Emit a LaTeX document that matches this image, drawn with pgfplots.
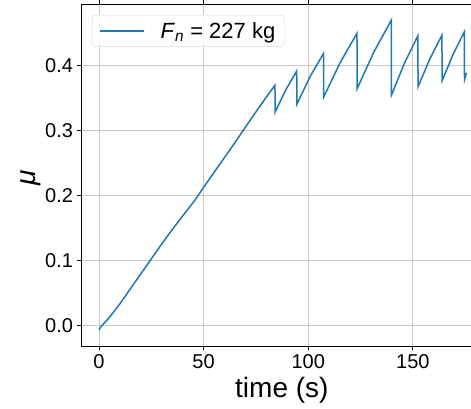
\documentclass[border=0pt]{standalone}
\usepackage{pgfplots}
\pgfplotsset{compat=1.18}
\usepackage{fontspec}
\setmainfont{Liberation Sans}
\definecolor{mplblue}{HTML}{1F77B4}
\definecolor{gridgray}{HTML}{C8C8C8}
\begin{document}
\begin{tikzpicture}
\begin{axis}[
    at={(0,0)}, anchor=south west,
    scale only axis,
    width=390pt, height=342pt,
    xmin=-8.6, xmax=177.8,
    ymin=-0.032, ymax=0.494,
    axis x line=box, axis y line=left,
    axis line style={-, line width=0.8pt, black},
    xtick={0,50,100,150},
    ytick={0,0.1,0.2,0.3,0.4},
    yticklabel style={xshift=-1pt, /pgf/number format/fixed, /pgf/number format/fixed zerofill, /pgf/number format/precision=1},
    /pgf/number format/assume math mode=true,
    tick align=outside,
    major tick length=3.5pt,
    tick style={line width=0.8pt, black},
    ticklabel style={font=\fontsize{20}{22}\selectfont},
    xticklabel style={yshift=-1pt},
    grid=major,
    major grid style={gridgray, line width=0.8pt},
    xlabel={time (s)},
    ylabel={\itshape μ},
    every axis x label/.style={at={(axis description cs:0.515,0)}, anchor=center, yshift=-44pt, font=\fontsize{28}{30}\selectfont},
    every axis y label/.style={at={(axis description cs:0,0.5)}, xshift=-50pt, yshift=-3pt, anchor=center, rotate=90, font=\fontsize{28}{30}\selectfont},
    legend style={at={(axis description cs:0.028,0.968)}, anchor=north west,
        draw=gray!30, rounded corners=3pt, fill=white, fill opacity=0.8, text opacity=1,
        font=\fontsize{22}{24}\selectfont, inner xsep=7pt, inner ysep=5pt,
        column sep=14pt},
    legend image code/.code={\draw[#1] (0pt,0pt) -- (44pt,0pt);},
    legend cell align=left,
]
\addplot[mplblue, line width=1.5pt] coordinates {
    (0,-0.007) (1,-0.002) (3,0.005) (5,0.012) (10,0.033) (15,0.056)
    (20,0.079) (25,0.102) (30,0.125) (35,0.147) (40,0.168) (46,0.193)
    (50,0.212) (55,0.235) (60,0.258) (65,0.281) (69,0.300) (75,0.328)
    (80,0.351) (84.1,0.369)
    (84.2,0.328) (89.3,0.362) (94.5,0.391)
    (94.6,0.340) (101,0.383) (107.3,0.418)
    (107.4,0.351) (115.3,0.404) (123.3,0.449)
    (123.4,0.364) (131.5,0.421) (139.7,0.469)
    (139.8,0.354) (146,0.403) (152.4,0.445)
    (152.5,0.367) (158.2,0.410) (163.9,0.446)
    (164.0,0.376) (169.3,0.417) (174.6,0.451)
    (174.7,0.378) (175.6,0.388)
};
\addlegendentry{\textit{F}\textsubscript{\textit{n}} = 227 kg}
\end{axis}
\pgfresetboundingbox
\path (-81pt,-62pt) rectangle (390pt,346pt);
\end{tikzpicture}
\end{document}
